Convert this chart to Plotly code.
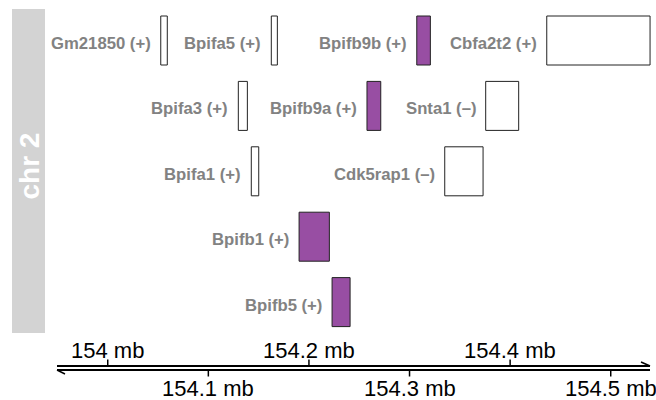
import plotly.graph_objects as go

# Gene annotations on chr 2 (positions in megabases)
gene_names = ["Gm21850", "Bpifa5", "Bpifb9b", "Cbfa2t2",
              "Bpifa3", "Bpifb9a", "Snta1",
              "Bpifa1", "Cdk5rap1",
              "Bpifb1",
              "Bpifb5"]
gene_starts = [154.0527, 154.1626, 154.3072, 154.4364,
               154.1298, 154.2577, 154.3757,
               154.1427, 154.3350,
               154.1902,
               154.2230]
gene_ends = [154.0592, 154.1686, 154.3207, 154.5391,
             154.1388, 154.2714, 154.4085,
             154.1501, 154.3731,
             154.2203,
             154.2409]
gene_rows = [0, 0, 0, 0,
             1, 1, 1,
             2, 2,
             3,
             4]
gene_strands = ["+", "+", "+", "+",
                "+", "+", "\u2013",
                "+", "\u2013",
                "+",
                "+"]
gene_highlight = [False, False, True, False,
                  False, True, False,
                  False, False,
                  True,
                  True]

chrom_label = "chr 2"
tick_values = [154.0, 154.1, 154.2, 154.3, 154.4, 154.5]
tick_labels = ["154 mb", "154.1 mb", "154.2 mb", "154.3 mb", "154.4 mb", "154.5 mb"]

W, H = 656, 400
X_RANGE = [153.8929, 154.5450]
ROW_PX0, ROW_PITCH = 40.5, 65.4          # pixel centre of row 0, spacing
Y_RANGE = [(H - ROW_PX0) / ROW_PITCH, -ROW_PX0 / ROW_PITCH]
HALF_H = 24.5 / ROW_PITCH

PURPLE = "#984ea3"
LABEL_GREY = "#828282"
FONT = "Liberation Sans, Arial, Helvetica, sans-serif"


def px_x(px):
    return X_RANGE[0] + px / W * (X_RANGE[1] - X_RANGE[0])


def py(px):
    return 1 - px / H


fig = go.Figure()
shapes = []
annotations = []

# chromosome strip on the left
shapes.append(dict(type="rect", xref="paper", yref="paper",
                   x0=12 / W, x1=45 / W, y0=py(333), y1=py(9),
                   fillcolor="#d3d3d3", line=dict(width=0), layer="below"))
annotations.append(dict(xref="paper", yref="paper", x=28.5 / W, y=py(166),
                        text=f"<b>{chrom_label}</b>", showarrow=False, textangle=-90,
                        font=dict(family=FONT, size=28, color="white"),
                        xanchor="center", yanchor="middle"))

# gene boxes and their labels
for name, s, e, r, st, hl in zip(gene_names, gene_starts, gene_ends,
                                 gene_rows, gene_strands, gene_highlight):
    shapes.append(dict(type="rect", xref="x", yref="y",
                       x0=s, x1=e, y0=r - HALF_H, y1=r + HALF_H,
                       fillcolor=PURPLE if hl else "white",
                       line=dict(color="#222222", width=1)))
    annotations.append(dict(xref="x", yref="y", x=s, y=r,
                            text=f"<b>{name} ({st})</b>", showarrow=False,
                            xanchor="right", yanchor="middle", xshift=-8, yshift=-3,
                            font=dict(family=FONT, size=16.7, color=LABEL_GREY)))

# genome axis: forward strand line (arrow right) and reverse strand line (arrow left)
ax_x0, ax_x1 = px_x(57), px_x(650)
y_top, y_bot = py(366), py(370)
line_style = dict(color="black", width=2)
shapes.append(dict(type="line", xref="x", yref="paper", x0=ax_x0, x1=ax_x1,
                   y0=y_top, y1=y_top, line=line_style))
shapes.append(dict(type="line", xref="x", yref="paper", x0=ax_x0, x1=ax_x1,
                   y0=y_bot, y1=y_bot, line=line_style))
shapes.append(dict(type="line", xref="x", yref="paper", x0=px_x(641), x1=ax_x1,
                   y0=py(362), y1=y_top, line=dict(color="black", width=1.5)))
shapes.append(dict(type="line", xref="x", yref="paper", x0=px_x(65), x1=ax_x0,
                   y0=py(374), y1=y_bot, line=dict(color="black", width=1.5)))

# ticks alternate above and below the axis
for i, (tv, tl) in enumerate(zip(tick_values, tick_labels)):
    above = i % 2 == 0
    if above:
        shapes.append(dict(type="line", xref="x", yref="paper", x0=tv, x1=tv,
                           y0=y_top, y1=py(359.5), line=dict(color="black", width=1.5)))
        ty = py(350)
    else:
        shapes.append(dict(type="line", xref="x", yref="paper", x0=tv, x1=tv,
                           y0=y_bot, y1=py(376.5), line=dict(color="black", width=1.5)))
        ty = py(388)
    annotations.append(dict(xref="x", yref="paper", x=tv, y=ty, text=tl,
                            showarrow=False, xanchor="center", yanchor="middle",
                            font=dict(family=FONT, size=22, color="black")))

fig.update_layout(
    width=W, height=H,
    margin=dict(l=0, r=0, t=0, b=0),
    paper_bgcolor="white", plot_bgcolor="white",
    xaxis=dict(range=X_RANGE, visible=False, showgrid=False, zeroline=False, fixedrange=True),
    yaxis=dict(range=Y_RANGE, visible=False, showgrid=False, zeroline=False, fixedrange=True),
    shapes=shapes, annotations=annotations, showlegend=False,
)

fig.write_html("out.html")
